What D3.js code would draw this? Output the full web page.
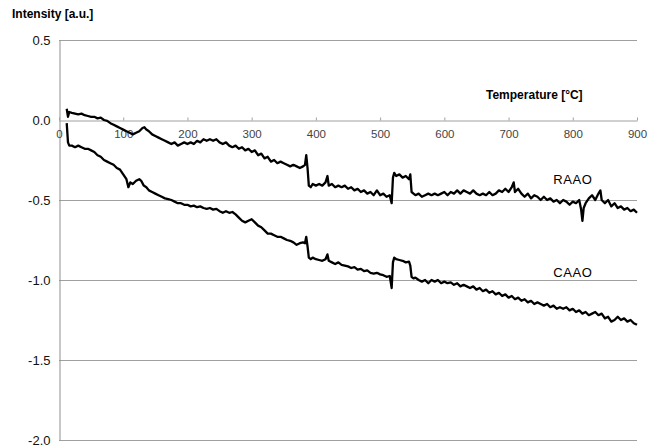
<!DOCTYPE html>
<html>
<head>
<meta charset="utf-8">
<script src="https://cdn.jsdelivr.net/npm/d3@7"></script>
<style>
    body { margin: 0; background: #fff; }
    text { font-family: "Liberation Sans", Arial, sans-serif; }
</style>
</head>
<body>
<script>
// series: [temperature °C, intensity a.u.]
const raao = [[12,0.07],[14,0.02],[16,0.05],[20,0.045],[25,0.04],[30,0.035],[35,0.04],[40,0.03],[45,0.025],[50,0.02],[55,0.02],[60,0.01],[65,0.015],[70,0.0],[75,-0.005],[80,-0.02],[85,-0.03],[90,-0.04],[95,-0.05],[100,-0.06],[105,-0.07],[110,-0.08],[115,-0.09],[120,-0.08],[125,-0.07],[130,-0.05],[133,-0.045],[136,-0.06],[140,-0.07],[145,-0.09],[150,-0.10],[155,-0.11],[160,-0.12],[165,-0.13],[170,-0.14],[175,-0.15],[180,-0.14],[185,-0.16],[190,-0.15],[195,-0.14],[200,-0.15],[205,-0.14],[210,-0.15],[215,-0.13],[220,-0.14],[225,-0.12],[230,-0.13],[235,-0.12],[240,-0.13],[245,-0.12],[250,-0.14],[255,-0.15],[260,-0.14],[265,-0.16],[270,-0.17],[275,-0.16],[280,-0.18],[285,-0.17],[290,-0.19],[295,-0.18],[300,-0.20],[305,-0.19],[310,-0.22],[315,-0.21],[320,-0.24],[325,-0.23],[330,-0.26],[335,-0.25],[340,-0.27],[345,-0.26],[350,-0.27],[355,-0.28],[360,-0.29],[365,-0.28],[370,-0.29],[375,-0.30],[380,-0.29],[383,-0.28],[385,-0.22],[387,-0.30],[389,-0.41],[392,-0.42],[395,-0.40],[400,-0.41],[405,-0.40],[410,-0.41],[415,-0.39],[418,-0.35],[420,-0.41],[425,-0.40],[430,-0.42],[435,-0.41],[440,-0.42],[445,-0.41],[450,-0.43],[455,-0.42],[460,-0.44],[465,-0.43],[470,-0.45],[475,-0.44],[480,-0.46],[485,-0.45],[490,-0.47],[495,-0.44],[500,-0.47],[505,-0.46],[510,-0.48],[515,-0.47],[518,-0.52],[520,-0.36],[522,-0.33],[525,-0.35],[530,-0.34],[535,-0.36],[540,-0.35],[545,-0.37],[547,-0.34],[549,-0.45],[552,-0.46],[555,-0.47],[560,-0.46],[565,-0.48],[570,-0.47],[575,-0.46],[580,-0.47],[585,-0.46],[590,-0.47],[595,-0.46],[600,-0.45],[605,-0.47],[610,-0.45],[615,-0.46],[620,-0.44],[625,-0.46],[630,-0.44],[635,-0.45],[640,-0.46],[645,-0.44],[650,-0.46],[655,-0.47],[660,-0.46],[665,-0.47],[670,-0.45],[675,-0.47],[680,-0.46],[685,-0.44],[690,-0.45],[695,-0.43],[700,-0.45],[705,-0.42],[708,-0.39],[710,-0.45],[715,-0.43],[720,-0.46],[725,-0.48],[730,-0.46],[735,-0.49],[740,-0.47],[745,-0.48],[750,-0.50],[755,-0.48],[760,-0.50],[765,-0.49],[770,-0.51],[775,-0.50],[780,-0.52],[785,-0.50],[790,-0.51],[795,-0.53],[800,-0.51],[805,-0.52],[810,-0.50],[813,-0.56],[815,-0.63],[817,-0.55],[820,-0.52],[825,-0.49],[830,-0.47],[835,-0.50],[840,-0.46],[843,-0.44],[845,-0.50],[850,-0.52],[855,-0.50],[860,-0.54],[865,-0.52],[870,-0.55],[875,-0.54],[880,-0.56],[885,-0.55],[890,-0.57],[895,-0.56],[900,-0.58]];

const caao = [[12,-0.02],[14,-0.14],[16,-0.16],[20,-0.16],[25,-0.17],[30,-0.16],[35,-0.17],[40,-0.18],[45,-0.18],[50,-0.19],[55,-0.20],[60,-0.22],[65,-0.23],[70,-0.25],[75,-0.26],[80,-0.27],[85,-0.28],[90,-0.30],[95,-0.31],[100,-0.34],[105,-0.37],[108,-0.42],[111,-0.39],[115,-0.40],[120,-0.38],[125,-0.37],[128,-0.38],[132,-0.41],[136,-0.42],[140,-0.44],[145,-0.45],[150,-0.46],[155,-0.47],[160,-0.48],[165,-0.49],[170,-0.495],[175,-0.50],[180,-0.51],[185,-0.52],[190,-0.52],[195,-0.53],[200,-0.53],[205,-0.54],[210,-0.535],[215,-0.545],[220,-0.54],[225,-0.55],[230,-0.555],[235,-0.55],[240,-0.56],[245,-0.555],[250,-0.57],[255,-0.58],[260,-0.57],[265,-0.58],[270,-0.575],[275,-0.59],[280,-0.61],[285,-0.63],[290,-0.64],[295,-0.63],[300,-0.62],[305,-0.64],[310,-0.66],[315,-0.67],[320,-0.69],[325,-0.71],[330,-0.71],[335,-0.72],[340,-0.73],[345,-0.73],[350,-0.74],[355,-0.75],[360,-0.755],[365,-0.765],[370,-0.78],[375,-0.77],[380,-0.765],[383,-0.77],[385,-0.73],[387,-0.79],[389,-0.86],[392,-0.87],[395,-0.86],[400,-0.87],[405,-0.875],[410,-0.88],[415,-0.87],[418,-0.84],[420,-0.88],[425,-0.89],[430,-0.90],[435,-0.89],[440,-0.905],[445,-0.91],[450,-0.915],[455,-0.925],[460,-0.92],[465,-0.935],[470,-0.93],[475,-0.945],[480,-0.94],[485,-0.955],[490,-0.96],[495,-0.955],[500,-0.965],[505,-0.97],[510,-0.98],[515,-0.975],[518,-1.05],[520,-0.89],[522,-0.86],[525,-0.87],[530,-0.875],[535,-0.88],[540,-0.89],[545,-0.885],[547,-0.91],[549,-0.98],[552,-0.99],[555,-0.985],[560,-1.0],[565,-1.01],[570,-1.00],[575,-1.02],[580,-1.0],[585,-1.01],[590,-1.0],[595,-1.02],[600,-1.01],[605,-1.02],[610,-1.015],[615,-1.03],[620,-1.02],[625,-1.04],[630,-1.03],[635,-1.04],[640,-1.05],[645,-1.04],[650,-1.06],[655,-1.05],[660,-1.07],[665,-1.06],[670,-1.08],[675,-1.07],[680,-1.09],[685,-1.08],[690,-1.10],[695,-1.09],[700,-1.11],[705,-1.10],[710,-1.12],[715,-1.11],[720,-1.13],[725,-1.12],[730,-1.14],[735,-1.13],[740,-1.15],[745,-1.14],[750,-1.15],[755,-1.16],[760,-1.15],[765,-1.17],[770,-1.16],[775,-1.18],[780,-1.17],[785,-1.18],[790,-1.17],[795,-1.19],[800,-1.18],[805,-1.20],[810,-1.19],[815,-1.21],[820,-1.20],[825,-1.22],[830,-1.21],[835,-1.20],[840,-1.22],[845,-1.21],[850,-1.24],[855,-1.23],[860,-1.26],[865,-1.25],[870,-1.23],[875,-1.25],[880,-1.24],[885,-1.26],[890,-1.25],[895,-1.27],[900,-1.28]];

const xTicks = [0, 100, 200, 300, 400, 500, 600, 700, 800, 900];
const yTicks = [0.5, 0.0, -0.5, -1.0, -1.5, -2.0];
const seriesLabels = [{name: "RAAO", x: 800, y: -0.4}, {name: "CAAO", x: 800, y: -0.98}];

const width = 659, height = 448;
const margin = {top: 40, right: 22, bottom: 8, left: 59};

const xScale = d3.scaleLinear().domain([0, 900]).range([margin.left, width - margin.right]);
const yScale = d3.scaleLinear().domain([-2.0, 0.5]).range([height - margin.bottom, margin.top]);

const svg = d3.select("body").append("svg")
    .attr("width", width)
    .attr("height", height);

// horizontal gridlines
svg.append("g")
    .selectAll("line")
    .data(yTicks.filter(d => d !== 0))
    .join("line")
    .attr("x1", xScale(0))
    .attr("x2", xScale(900))
    .attr("y1", d => Math.round(yScale(d)) + 0.5)
    .attr("y2", d => Math.round(yScale(d)) + 0.5)
    .attr("stroke", "#a0a0a0")
    .attr("stroke-width", 1);

// y axis, labels with a plain hyphen like the original
const yAxis = d3.axisLeft(yScale)
    .tickValues(yTicks)
    .tickFormat(d => d.toFixed(1))
    .tickSize(0)
    .tickPadding(9);
const gy = svg.append("g")
    .attr("transform", `translate(${xScale(0) + 0.5},0)`)
    .call(yAxis);
gy.select(".domain").attr("stroke", "#909090");
gy.selectAll("text")
    .attr("font-size", 13)
    .attr("fill", "#111")
    .attr("font-family", "Liberation Sans, Arial, sans-serif");

// x axis at intensity 0
const xAxis = d3.axisTop(xScale)
    .tickValues(xTicks)
    .tickSize(3)
    .tickSizeOuter(0);
const gx = svg.append("g")
    .attr("transform", `translate(0,${Math.round(yScale(0)) + 0.5})`)
    .call(xAxis);
gx.select(".domain").attr("stroke", "#a0a0a0");
gx.selectAll(".tick line").attr("stroke", "#a0a0a0");
gx.selectAll("text")
    .attr("y", 17)
    .attr("font-size", 11.5)
    .attr("fill", "#444")
    .attr("font-family", "Liberation Sans, Arial, sans-serif");

// series
const line = d3.line()
    .x(d => xScale(d[0]))
    .y(d => yScale(d[1]));

[raao, caao].forEach(s => {
    svg.append("path")
        .datum(s)
        .attr("fill", "none")
        .attr("stroke", "#000")
        .attr("stroke-width", 2.3)
        .attr("stroke-linejoin", "round")
        .attr("d", line);
});

svg.selectAll(".series-label")
    .data(seriesLabels)
    .join("text")
    .attr("class", "series-label")
    .attr("x", d => xScale(d.x))
    .attr("y", d => yScale(d.y))
    .attr("text-anchor", "middle")
    .attr("font-size", 13)
    .attr("letter-spacing", 0.6)
    .text(d => d.name);

// axis titles
svg.append("text")
    .attr("x", 12)
    .attr("y", 18)
    .attr("font-size", 12)
    .attr("font-weight", "bold")
    .text("Intensity [a.u.]");

svg.append("text")
    .attr("x", 486)
    .attr("y", 99)
    .attr("font-size", 12)
    .attr("font-weight", "bold")
    .text("Temperature [°C]");
</script>
</body>
</html>
